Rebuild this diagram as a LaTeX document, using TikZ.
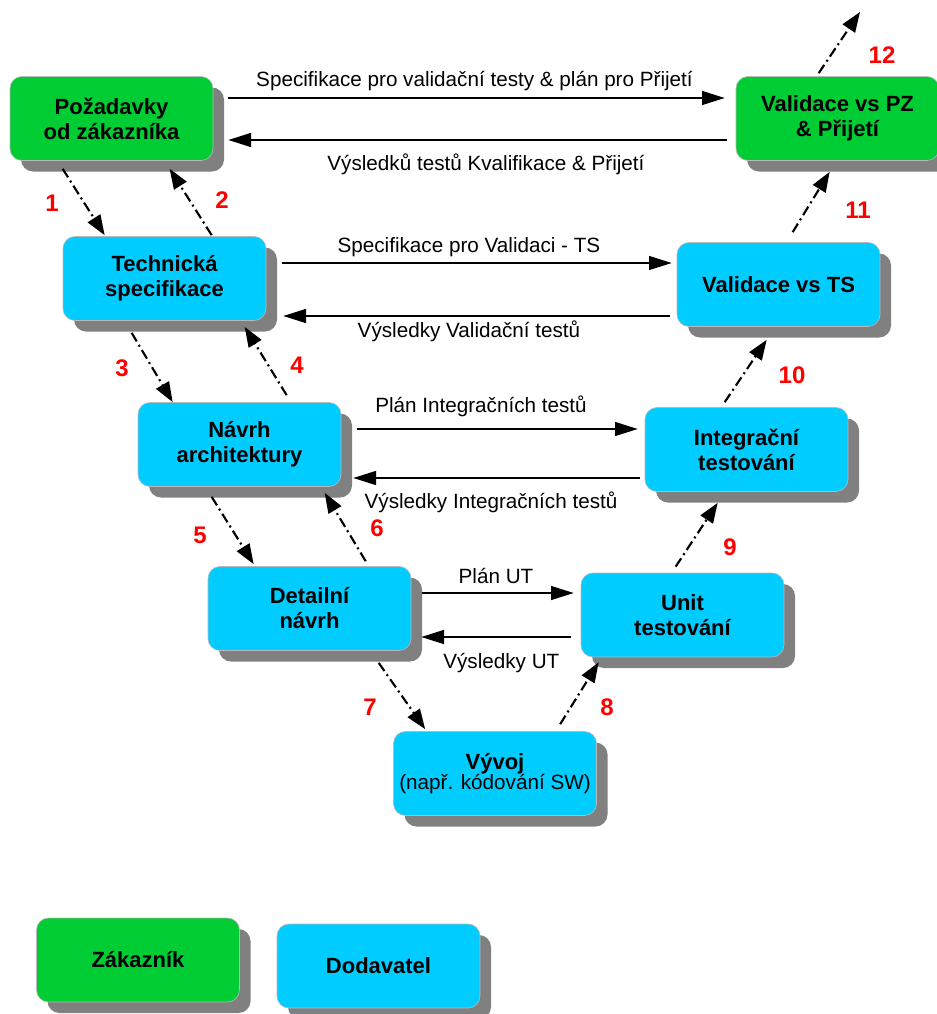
\documentclass[tikz,border=0pt]{standalone}
\usepackage{fontspec}
\setmainfont{Liberation Sans}
\usetikzlibrary{arrows.meta,calc,shadows}

\definecolor{custgreen}{RGB}{0,204,51}
\definecolor{suppblue}{RGB}{0,204,255}
\definecolor{shadowgray}{RGB}{128,128,128}
\definecolor{numred}{RGB}{255,0,0}

\begin{document}
\begin{tikzpicture}[x=0.75pt,y=-0.75pt,
  phase/.style={rectangle, rounded corners=9pt, draw=shadowgray!55, line width=0.5pt,
    minimum width=152.25pt, minimum height=63pt, inner sep=0pt, align=center,
    font=\bfseries\fontsize{16.5}{18.75}\selectfont,
    drop shadow={shadow xshift=8.25pt, shadow yshift=-8.25pt, fill=shadowgray, opacity=1}},
  customer/.style={phase, fill=custgreen},
  supplier/.style={phase, fill=suppblue},
  flow/.style={line width=1pt, -{Triangle[length=17pt,width=10.5pt]}},
  lbl/.style={font=\fontsize{15.5}{18}\selectfont, anchor=base, inner sep=0pt},
  trace/.style={line width=1.6pt, dash pattern=on 7.5pt off 3pt on 1.5pt off 3pt,
    -{Triangle[length=15pt,width=11pt]}},
  num/.style={font=\bfseries\fontsize{18}{21}\selectfont, text=numred, inner sep=0pt},
]
\useasboundingbox (0,0) rectangle (937,1014);

% --- phases of the V model ---
\node[customer] (req)      at (111.5,118.5) {Požadavky\\od zákazníka};
\node[customer] (accept)   at (837.5,118.5) {Validace vs PZ\\\& Přijetí};
\node[supplier] (techspec) at (164.5,278.5) {Technická\\specifikace};
\node[supplier] (valts)    at (778.5,284.5) {Validace vs TS};
\node[supplier] (arch)     at (239.5,444.5) {Návrh\\architektury};
\node[supplier] (integ)    at (746.5,449.5) {Integrační\\testování};
\node[supplier] (detail)   at (309.5,608.5) {Detailní\\návrh};
\node[supplier] (unit)     at (682.5,615)   {Unit\\testování};
\node[supplier] (dev)      at (495,773.5)   {Vývoj\\[-4pt]{\mdseries\fontsize{15.5}{18}\selectfont (např. kódování SW)}};

% --- legend ---
\node[customer] (legcust) at (138,960)   {Zákazník};
\node[supplier] (legsupp) at (378.5,966) {Dodavatel};

% --- horizontal plans and results ---
\draw[flow, shorten <=11.25pt, shorten >=8.25pt] (req.east |- 0,98) -- (accept.west |- 0,98)
  node[lbl, pos=.5, yshift=9pt] (t1) {Specifikace pro validační testy \& plán pro Přijetí};
\draw[flow, shorten <=6.75pt, shorten >=11.25pt] (accept.west |- 0,140) -- (req.east |- 0,140)
  node[lbl, pos=.5, yshift=-22.5pt, xshift=8.6pt] (r1) {Výsledků testů Kvalifikace \& Přijetí};

\draw[flow, shorten <=12pt, shorten >=3.75pt] (techspec.east |- 0,263) -- (valts.west |- 0,263)
  node[lbl, pos=.5, yshift=8.25pt, xshift=-1.9pt] (t2) {Specifikace pro Validaci - TS};
\draw[flow, shorten <=5.25pt, shorten >=12.75pt] (valts.west |- 0,316) -- (techspec.east |- 0,316)
  node[lbl, pos=.5, yshift=-15.75pt, xshift=-1.9pt] (r2) {Výsledky Validační testů};

\draw[flow, shorten <=12pt, shorten >=5.25pt] (arch.east |- 0,429) -- (integ.west |- 0,429)
  node[lbl, pos=.5, yshift=12.75pt, xshift=-9pt] (t3) {Plán Integračních testů};
\draw[flow, shorten <=3.75pt, shorten >=9pt] (integ.west |- 0,478) -- (arch.east |- 0,478)
  node[lbl, pos=.5, yshift=-22.5pt, xshift=-1.5pt] (r3) {Výsledky Integračních testů};

\draw[flow, shorten <=8.25pt, shorten >=5.25pt] (detail.east |- 0,593) -- (unit.west |- 0,593)
  node[lbl, pos=.5, yshift=7.5pt] (t4) {Plán UT};
\draw[flow, shorten <=7.5pt, shorten >=7.5pt] (unit.west |- 0,637) -- (detail.east |- 0,637)
  node[lbl, pos=.5, yshift=-23.25pt, xshift=4pt] (r4) {Výsledky UT};

% --- numbered transitions down and up the V ---
\coordinate (beyond) at (860,12);
\draw[trace] ($(req.south west)+(53,8)$)         -- ($(techspec.north west)+(42,-1)$);
\draw[trace] ($(techspec.north west)+(149,-1)$)  -- ($(req.south west)+(160,8)$);
\draw[trace] ($(techspec.south west)+(69,12)$)   -- ($(arch.north west)+(35,0)$);
\draw[trace] ($(arch.north west)+(149,-7)$)      -- ($(techspec.south west)+(182,6)$);
\draw[trace] ($(arch.south west)+(74,10)$)       -- ($(detail.north west)+(46,-2)$);
\draw[trace] ($(detail.north west)+(158,-5)$)    -- ($(arch.south west)+(187,6)$);
\draw[trace] ($(detail.south west)+(171,12)$)    -- ($(dev.north west)+(32,-2)$);
\draw[trace] ($(dev.north west)+(167,-7)$)       -- ($(unit.south west)+(18,5)$);
\draw[trace] ($(unit.north west)+(95,-6)$)       -- ($(integ.south west)+(73,11)$);
\draw[trace] ($(integ.north west)+(80,-5)$)      -- ($(valts.south west)+(90,13)$);
\draw[trace] ($(valts.north west)+(116,-10)$)    -- ($(accept.south west)+(94,11)$);
\draw[trace] ($(accept.north west)+(83,-3)$)     -- (beyond);

\node[num] (n1)  at (52,203)  {1};
\node[num] (n2)  at (222,200) {2};
\node[num] (n3)  at (122,368) {3};
\node[num] (n4)  at (297,365) {4};
\node[num] (n5)  at (200,535) {5};
\node[num] (n6)  at (377,528) {6};
\node[num] (n7)  at (370,707) {7};
\node[num] (n8)  at (607,707) {8};
\node[num] (n9)  at (730,547) {9};
\node[num] (n10) at (792,375) {10};
\node[num] (n11) at (858,210) {11};
\node[num] (n12) at (882,55)  {12};
\end{tikzpicture}
\end{document}
